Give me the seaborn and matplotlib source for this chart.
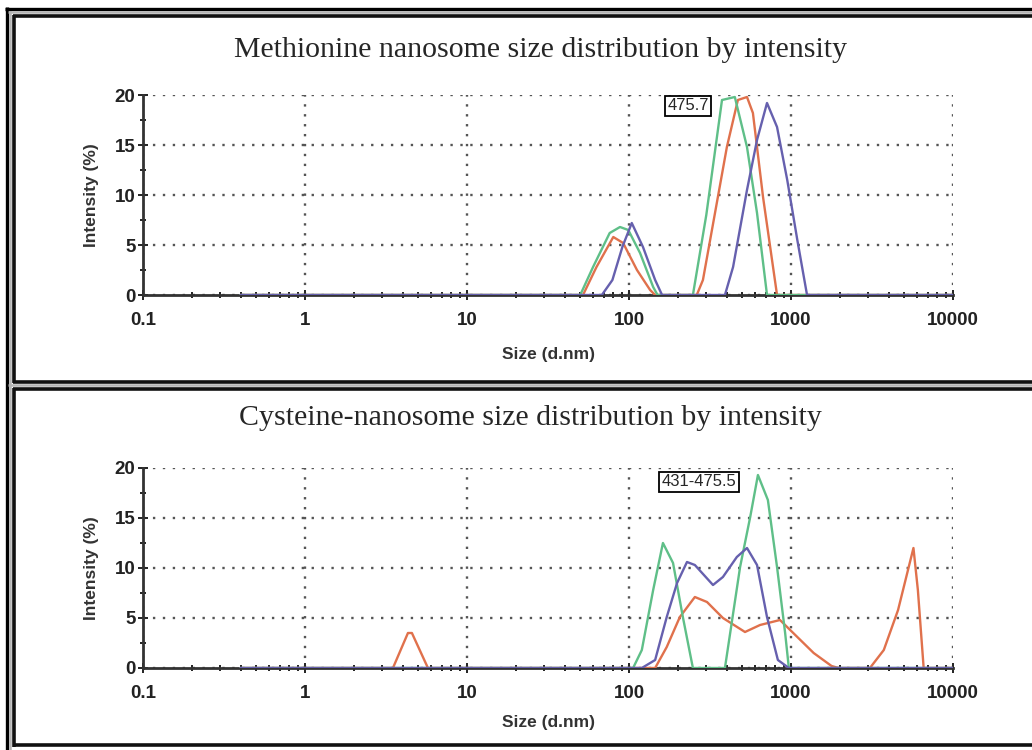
import numpy as np
import pandas as pd
import matplotlib
matplotlib.use("Agg")
import matplotlib.pyplot as plt
from matplotlib.lines import Line2D
import seaborn as sns

# === data ===
W, H = 1032, 750

titles = ["Methionine nanosome size distribution by intensity",
          "Cysteine-nanosome size distribution by intensity"]
notes = ["475.7", "431-475.5"]
note_pos = [(231, 18.9), (270, 18.6)]

xtick_vals = [0.1, 1, 10, 100, 1000, 10000]
xtick_labels = ["0.1", "1", "10", "100", "1000", "10000"]
ytick_vals = [0, 5, 10, 15, 20]

# methionine
met_red_x = [0.4, 52, 63, 80, 92, 112, 135, 145, 262, 286, 402, 470, 535, 582, 672, 820, 10000]
met_red_y = [0, 0, 2.8, 5.8, 5.2, 2.5, 0.5, 0, 0, 1.5, 14.8, 19.5, 19.8, 18.2, 9.8, 0, 0]
met_green_x = [0.4, 50, 60, 76, 88, 99, 117, 141, 150, 248, 300, 375, 450, 535, 617, 711, 10000]
met_green_y = [0, 0, 2.8, 6.2, 6.8, 6.5, 4.2, 0.8, 0, 0, 8.0, 19.5, 19.8, 14.8, 8.2, 0, 0]
met_blue_x = [0.4, 68, 79, 91, 104, 122, 145, 160, 391, 439, 535, 617, 711, 820, 948, 1094, 1256, 10000]
met_blue_y = [0, 0, 1.5, 4.8, 7.2, 4.8, 1.5, 0, 0, 2.8, 10.5, 15.5, 19.2, 16.8, 11.5, 5.5, 0, 0]

# cysteine
cys_red_x = [0.4, 3.49, 4.32, 4.57, 5.74, 145, 171, 206, 255, 303, 380, 520, 644, 855, 1094,
             1380, 1780, 1970, 3070, 3740, 4580, 5700, 6070, 6590, 10000]
cys_red_y = [0, 0, 3.5, 3.5, 0, 0, 2.1, 5.1, 7.1, 6.6, 5.0, 3.6, 4.3, 4.8, 3.1,
             1.5, 0.2, 0, 0, 1.8, 5.8, 12.0, 7.8, 0, 0]
cys_green_x = [0.4, 106, 120, 141, 162, 187, 215, 248, 391, 485, 560, 625, 720, 820, 920, 970, 10000]
cys_green_y = [0, 0, 1.8, 7.8, 12.5, 10.5, 5.1, 0, 0, 10.1, 15.1, 19.3, 16.8, 10.1, 3.5, 0, 0]
cys_blue_x = [0.4, 120, 145, 171, 198, 228, 255, 330, 380, 463, 535, 617, 711, 830, 970, 10000]
cys_blue_y = [0, 0, 0.8, 5.1, 8.5, 10.6, 10.3, 8.3, 9.1, 11.1, 12.0, 10.3, 5.1, 0.8, 0, 0]

panels = [
    [("red", met_red_x, met_red_y), ("green", met_green_x, met_green_y), ("blue", met_blue_x, met_blue_y)],
    [("red", cys_red_x, cys_red_y), ("green", cys_green_x, cys_green_y), ("blue", cys_blue_x, cys_blue_y)],
]
colors = {"red": "#e0714c", "green": "#5fbf88", "blue": "#6660ae"}

# === style ===
sns.set_style("white")
plt.rcParams['font.family'] = ['Liberation Sans', 'DejaVu Sans']

fig = plt.figure(figsize=(W / 100, H / 100), dpi=100)


def px(x, y):
    return x / W, 1 - y / H


def hline(y, x0, x1, lw, color):
    a, b = px(x0, y)
    c, _ = px(x1, y)
    fig.add_artist(Line2D([a, c], [b, b], transform=fig.transFigure, lw=lw, color=color,
                          solid_capstyle="butt"))


def vline(x, y0, y1, lw, color):
    a, b = px(x, y0)
    _, d = px(x, y1)
    fig.add_artist(Line2D([a, a], [b, d], transform=fig.transFigure, lw=lw, color=color,
                          solid_capstyle="butt"))


# double frame
vline(6.5, 7, 750, 2.4, "black")
vline(10, 10, 750, 1.8, "#b5b5b5")
hline(8.5, 5, 1040, 2.4, "black")
hline(12, 8, 1040, 1.8, "#b5b5b5")
for top, bot in [(16, 381.5), (389, 745)]:
    vline(14, top - 1.5, bot + 1.5, 2.6, "#111111")
    hline(top, 13, 1040, 2.6, "#111111")
    hline(bot, 13, 1040, 2.6, "#111111")
hline(385, 8, 1040, 1.8, "#b5b5b5")

ax_boxes = [(143, 95, 953, 295), (143, 468, 953, 668)]
title_y = [50, 418]
title_x = [541, 530]
xlabel_pad = [13, 9]

for i, (x0, y0, x1, y1) in enumerate(ax_boxes):
    l, t = px(x0, y0)
    r, b = px(x1, y1)
    ax = fig.add_axes([l, b, r - l, t - b])
    ax.set_xscale("log")

    for name, xs, ys in panels[i]:
        df = pd.DataFrame({"size": xs, "intensity": ys})
        sns.lineplot(data=df, x="size", y="intensity", ax=ax, color=colors[name],
                     lw=1.7, sort=False, estimator=None, zorder=3)

    ax.set_xlim(0.1, 10000)
    ax.set_ylim(0, 20)
    ax.set_xticks(xtick_vals, xtick_labels)
    ax.set_yticks(ytick_vals)
    ax.set_yticks([2.5, 7.5, 12.5, 17.5], minor=True)
    ax.tick_params(axis="both", which="both", direction="inout", color="#222222", width=1.4,
                   bottom=True, left=True)
    ax.tick_params(axis="both", which="major", length=7, labelsize=13.5, pad=2)
    ax.tick_params(axis="both", which="minor", length=5)
    for lab in ax.get_xticklabels() + ax.get_yticklabels():
        lab.set_fontweight("bold")
        lab.set_color("#222222")
    ax.tick_params(axis="x", which="major", pad=9)

    ax.grid(True, which="major", color="#555555", linestyle=(0, (1, 3.2)), lw=1.7)
    for side in ["top", "right"]:
        ax.spines[side].set_visible(False)
    for side in ["left", "bottom"]:
        ax.spines[side].set_color("#333333")
        ax.spines[side].set_linewidth(2.0)
        ax.spines[side].set_zorder(2)
    ax.set_axisbelow(True)

    ax.set_xlabel("Size (d.nm)", fontsize=12.5, fontweight="bold", color="#333333",
                  labelpad=xlabel_pad[i])
    ax.set_ylabel("Intensity (%)", fontsize=12.5, fontweight="bold", color="#333333", labelpad=11)

    nx, ny = note_pos[i]
    ax.text(nx, ny, notes[i], ha="center", va="center", fontsize=12,
            family=["Liberation Sans Narrow", "Liberation Sans", "DejaVu Sans"], zorder=5,
            bbox=dict(boxstyle="square,pad=0.15", fc="white", ec="black", lw=1.3))

    tx, ty = px(title_x[i], title_y[i])
    fig.text(tx, ty, titles[i], ha="center", va="center", fontsize=21.5,
             family=["Liberation Serif", "DejaVu Serif"])

fig.savefig("out.png", dpi=100)
